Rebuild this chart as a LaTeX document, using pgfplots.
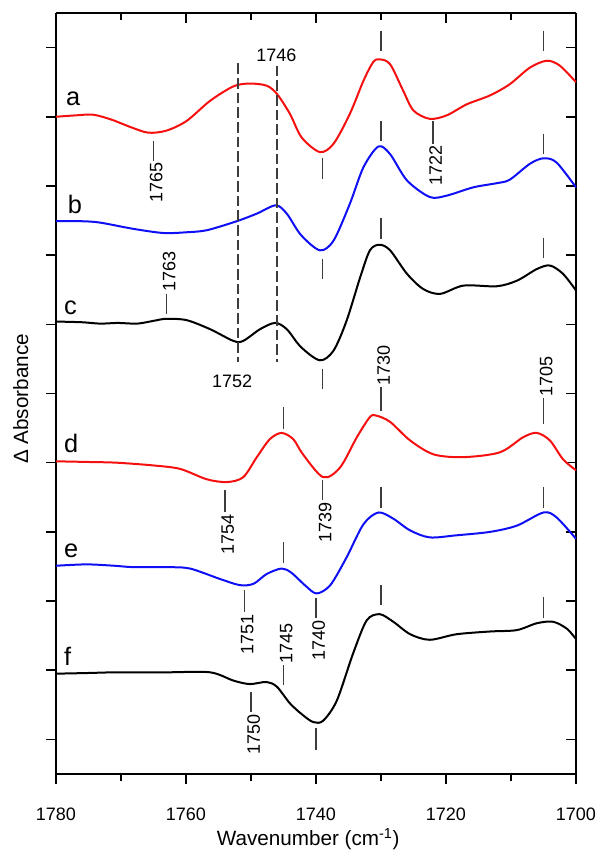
\documentclass[border=0pt]{standalone}
\usepackage{pgfplots}
\pgfplotsset{compat=1.18}
\usepackage{fontspec}
\setmainfont{Liberation Sans}
\definecolor{cred}{RGB}{245,15,15}
\definecolor{cblue}{RGB}{15,15,245}
\definecolor{mkc}{RGB}{60,60,60}
\newcommand{\mk}[3]{\draw[mk] (axis cs:#1,#2) -- (axis cs:#1,#3);}
\begin{document}
\begin{tikzpicture}
\tikzset{mk/.style={mkc, line width=1.2pt},
  lab/.style={font=\fontsize{13.5}{16}\selectfont, inner sep=1pt},
  alab/.style={font=\fontsize{15.5}{18}\selectfont, inner sep=0pt},
  let/.style={font=\fontsize{19}{22}\selectfont, inner sep=0pt}}
\pgfplotsset{base/.style={
  scale only axis, width=390pt, height=570.75pt,
  at={(0,0)}, anchor=south west,
  x dir=reverse, xmin=1700, xmax=1780, ymin=-0.5, ymax=10.5,
  xtick={1700,1720,1740,1760,1780}, minor xtick={1710,1730,1750,1770},
  ytick={0,1,...,10}, yticklabels={},
  axis line style={line width=1.5pt},
  major tick length=7.5pt, minor tick length=5pt,
  every tick/.style={line width=1.2pt, black},
  /pgf/number format/.cd, 1000 sep={}, assume math mode=true}}
\path[use as bounding box] (-42pt,-60pt) rectangle (405pt,580.5pt);
\begin{axis}[base, axis x line*=top, axis y line*=right, tick align=inside,
  xticklabels={}]
\end{axis}
\begin{axis}[base, axis x line*=bottom, axis y line*=left, tick align=outside,
  clip=false,
  xticklabel style={font=\fontsize{13.5}{16}\selectfont, anchor=base, yshift=-27.5pt}]
% curve a
\addplot[cred, line width=1.5pt, smooth, tension=0.5] coordinates {(1780,9.00) (1777,9.02) (1774.3,9.03) (1771.5,8.96) (1768.5,8.85) (1765.8,8.77) (1763.0,8.80) (1759.9,8.94) (1756.3,9.23) (1752.7,9.44) (1750.2,9.48) (1747.6,9.45) (1746.0,9.33) (1744.0,9.04) (1742.2,8.70) (1739.4,8.49) (1737.3,8.61) (1734.8,9.04) (1732.7,9.52) (1731.2,9.79) (1730.2,9.83) (1728.6,9.76) (1726.6,9.38) (1725.0,9.09) (1722.5,8.97) (1719.9,9.02) (1716.8,9.18) (1713.2,9.31) (1710.2,9.47) (1707.1,9.71) (1704.5,9.81) (1702.5,9.74) (1700,9.50)};
% curve b
\addplot[cblue, line width=1.5pt, smooth, tension=0.5] coordinates {(1780,7.49) (1776,7.49) (1773.2,7.47) (1768.1,7.38) (1763.5,7.32) (1760,7.33) (1756.8,7.36) (1752.2,7.49) (1749.1,7.60) (1746.2,7.72) (1744.5,7.60) (1742.3,7.29) (1739.4,7.07) (1737.3,7.21) (1734.8,7.74) (1732.7,8.27) (1730.4,8.57) (1728.6,8.46) (1726.0,8.08) (1722.5,7.84) (1719.9,7.86) (1715.8,7.98) (1712.2,8.04) (1710.2,8.09) (1707.1,8.32) (1705.0,8.40) (1703.0,8.34) (1700,7.98)};
% curve c
\addplot[black, line width=1.5pt, smooth, tension=0.5] coordinates {(1780,6.04) (1776,6.03) (1773.2,6.01) (1770.5,6.02) (1767.5,6.01) (1765,6.05) (1763.0,6.08) (1759.9,6.06) (1756.3,5.93) (1752.7,5.76) (1751.2,5.76) (1748.6,5.93) (1746.3,6.02) (1744.5,5.93) (1742.3,5.67) (1739.4,5.48) (1737.3,5.62) (1735.3,6.05) (1733.2,6.68) (1731.7,7.07) (1730.2,7.15) (1728.6,7.07) (1726.0,6.73) (1723.5,6.51) (1720.9,6.44) (1717.3,6.56) (1712.2,6.55) (1709.1,6.63) (1706.0,6.80) (1704.0,6.85) (1702.0,6.73) (1700,6.49)};
% curve d
\addplot[cred, line width=1.5pt, smooth, tension=0.5] coordinates {(1780,4.02) (1775,4.01) (1770.7,4.00) (1765,3.96) (1760.9,3.91) (1756.8,3.76) (1753.7,3.72) (1751.2,3.79) (1749.1,4.08) (1747.1,4.34) (1745.3,4.43) (1743.5,4.34) (1742.0,4.12) (1738.9,3.79) (1736.3,3.93) (1733.7,4.37) (1731.7,4.66) (1730.7,4.68) (1728.6,4.59) (1725.5,4.32) (1721.9,4.12) (1717.3,4.08) (1711.7,4.15) (1708.1,4.37) (1706.0,4.43) (1704.0,4.32) (1702.0,4.05) (1700,3.89)};
% curve e
\addplot[cblue, line width=1.5pt, smooth, tension=0.5] coordinates {(1780,2.51) (1775.3,2.53) (1771,2.51) (1768.1,2.49) (1763,2.49) (1759.4,2.47) (1754.8,2.32) (1751.7,2.23) (1749.6,2.25) (1747.6,2.39) (1745.3,2.47) (1743.8,2.41) (1741.6,2.22) (1739.9,2.11) (1737.8,2.23) (1735.3,2.63) (1732.7,3.11) (1730.4,3.28) (1728.1,3.19) (1725.5,3.02) (1722.5,2.92) (1718.4,2.95) (1713.2,3.00) (1709.1,3.09) (1705.0,3.28) (1703.0,3.21) (1700,2.90)};
% curve f
\addplot[black, line width=1.5pt, smooth, tension=0.5] coordinates {(1780,0.95) (1775,0.96) (1770.7,0.97) (1763,0.97) (1756.3,0.97) (1752.7,0.85) (1750.2,0.80) (1747.6,0.83) (1746.0,0.76) (1744.0,0.52) (1742.0,0.35) (1740.4,0.25) (1738.9,0.27) (1736.8,0.56) (1734.3,1.24) (1732.2,1.72) (1730.2,1.81) (1728.1,1.70) (1725.5,1.52) (1722.5,1.44) (1718.4,1.52) (1713.2,1.56) (1709.1,1.58) (1706.0,1.68) (1703.5,1.70) (1701.4,1.60) (1700,1.45)};
% dashed lines
\draw[mkc, line width=1pt, dash pattern=on 8pt off 3pt] (axis cs:1752,9.77) -- (axis cs:1752,5.45);
\draw[mkc, line width=1pt, dash pattern=on 8pt off 3pt] (axis cs:1746,9.74) -- (axis cs:1746,5.45);
\node[lab, anchor=base] at (axis cs:1746.1,9.80) {1746};
\node[lab, anchor=base] at (axis cs:1752.9,5.09) {1752};
% markers a
\mk{1765}{8.656}{8.367}
\mk{1739}{8.41}{8.107}
\mk{1730}{10.245}{9.957}
\mk{1722}{8.945}{8.613}
\mk{1705}{10.245}{9.957}
\node[lab, rotate=90, anchor=east] at ([xshift=2pt]axis cs:1765,8.367) {1765};
\node[lab, rotate=90, anchor=east] at ([xshift=2pt]axis cs:1722,8.613) {1722};
% markers b
\mk{1730}{8.945}{8.656}
\mk{1705}{8.757}{8.468}
\mk{1739}{6.951}{6.662}
% markers c
\mk{1763}{6.445}{6.156}
\mk{1730}{7.543}{7.24}
\mk{1705}{7.254}{6.965}
\mk{1739}{5.361}{5.072}
\node[lab, rotate=90, anchor=west] at ([xshift=2pt]axis cs:1763,6.445) {1763};
% markers d
\mk{1730}{5.087}{4.754}
\mk{1705}{4.928}{4.566}
\mk{1745}{4.798}{4.494}
\mk{1754}{3.598}{3.28}
\mk{1739}{3.743}{3.454}
\node[lab, rotate=90, anchor=west] at ([xshift=2pt]axis cs:1730,5.087) {1730};
\node[lab, rotate=90, anchor=west] at ([xshift=2pt]axis cs:1705,4.928) {1705};
\node[lab, rotate=90, anchor=east] at ([xshift=2pt]axis cs:1754,3.28) {1754};
\node[lab, rotate=90, anchor=east] at ([xshift=2pt]axis cs:1739,3.454) {1739};
% markers e
\mk{1745}{2.847}{2.543}
\mk{1730}{3.642}{3.338}
\mk{1705}{3.642}{3.338}
\mk{1751}{2.153}{1.835}
\mk{1740}{2.038}{1.749}
\node[lab, rotate=90, anchor=east] at ([xshift=2pt]axis cs:1751,1.835) {1751};
\node[lab, rotate=90, anchor=east] at ([xshift=2pt]axis cs:1740,1.749) {1740};
% markers f
\mk{1745}{1.069}{0.78}
\mk{1750}{0.679}{0.39}
\mk{1740}{0.159}{-0.159}
\mk{1730}{2.225}{1.936}
\mk{1705}{2.052}{1.749}
\node[lab, rotate=90, anchor=west] at ([xshift=2pt]axis cs:1745,1.069) {1745};
\node[lab, rotate=90, anchor=east] at ([xshift=2pt]axis cs:1750,0.39) {1750};
% curve letters
\node[let, anchor=base west] at (axis cs:1778.5,9.16) {a};
\node[let, anchor=base west] at (axis cs:1778.2,7.60) {b};
\node[let, anchor=base west] at (axis cs:1778.8,6.14) {c};
\node[let, anchor=base west] at (axis cs:1778.8,4.15) {d};
\node[let, anchor=base west] at (axis cs:1778.8,2.63) {e};
\node[let, anchor=base west] at (axis cs:1778.8,1.07) {f};
% axis labels
\node[alab, anchor=base] at (axis cs:1741.2,-1.532) {Wavenumber (cm\textsuperscript{-1})};
\node[alab, anchor=base, rotate=90] at (axis cs:1784.3,4.92) {Δ Absorbance};
\end{axis}
\end{tikzpicture}
\end{document}
